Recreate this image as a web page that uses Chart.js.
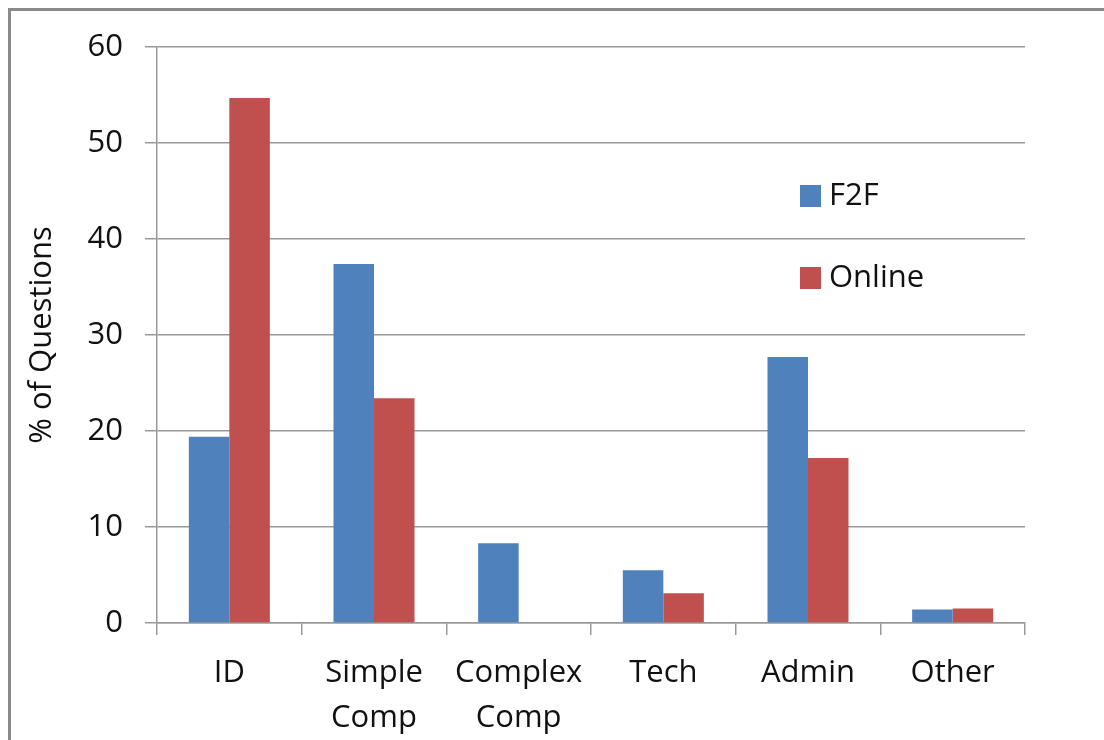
<!DOCTYPE html>
<html>
<head>
<meta charset="utf-8">
<script src="https://cdn.jsdelivr.net/npm/chart.js@4/dist/chart.umd.min.js"></script>
<style>
  html, body { margin: 0; padding: 0; background: #fff; }
  #wrap { position: relative; width: 1104px; height: 740px; overflow: hidden; }
  #frame { position: absolute; left: 8px; top: 8px; width: 1200px; height: 800px;
           border-top: 3px solid #8a8a8a; border-left: 3px solid #8a8a8a; pointer-events: none; }
</style>
</head>
<body>
<div id="wrap">
  <canvas id="chart" width="1104" height="740"></canvas>
  <div id="frame"></div>
</div>
<script>
const categories = [['ID'], ['Simple', 'Comp'], ['Complex', 'Comp'], ['Tech'], ['Admin'], ['Other']];
const f2f = [19.4, 37.4, 8.3, 5.5, 27.7, 1.4];
const online = [54.7, 23.4, 0, 3.1, 17.2, 1.5];
const seriesNames = ['F2F', 'Online'];
const seriesColors = ['#4F81BD', '#C0504D'];

const FONT = "'Open Sans', sans-serif";

// legend drawn inside the plot, like the original
const insideLegend = {
    id: 'insideLegend',
    afterDraw(chart) {
        const c = chart.ctx;
        const items = [{ x: 800, y: 185 }, { x: 800, y: 267 }];
        c.save();
        c.font = '31px ' + FONT;
        c.textBaseline = 'middle';
        chart.data.datasets.forEach((ds, i) => {
            const p = items[i];
            c.fillStyle = ds.backgroundColor;
            c.fillRect(p.x, p.y, 21, 22);
            c.fillStyle = '#111';
            c.fillText(ds.label, p.x + 29, p.y + 11);
        });
        c.restore();
    }
};

new Chart(document.getElementById('chart').getContext('2d'), {
    type: 'bar',
    data: {
        labels: categories,
        datasets: [
            { label: seriesNames[0], data: f2f, backgroundColor: seriesColors[0] },
            { label: seriesNames[1], data: online, backgroundColor: seriesColors[1] }
        ]
    },
    options: {
        responsive: false,
        animation: false,
        layout: { padding: { top: 47, right: 79, left: 0, bottom: 0 } },
        datasets: { bar: { barPercentage: 1, categoryPercentage: 0.56 } },
        scales: {
            x: {
                grid: { offset: true, drawOnChartArea: false, color: '#999', tickLength: 12, lineWidth: 1.5 },
                border: { color: '#999', width: 1.5 },
                ticks: { color: '#111', font: { family: FONT, size: 31, lineHeight: 1.45 }, padding: 16, maxRotation: 0, autoSkip: false },
                afterFit(scale) { scale.height = 117; }
            },
            y: {
                min: 0,
                max: 60,
                ticks: { stepSize: 10, color: '#111', font: { family: FONT, size: 31 }, padding: 22 },
                grid: { color: '#999', tickLength: 12, lineWidth: 1.5 },
                border: { color: '#999', width: 1.5 },
                title: { display: true, text: '% of Questions', color: '#111', font: { family: FONT, size: 31 }, padding: { top: 24, bottom: 0 } },
                afterFit(scale) { scale.width = 157; }
            }
        },
        plugins: {
            legend: { display: false },
            tooltip: { enabled: false }
        }
    },
    plugins: [insideLegend]
});
</script>
</body>
</html>
